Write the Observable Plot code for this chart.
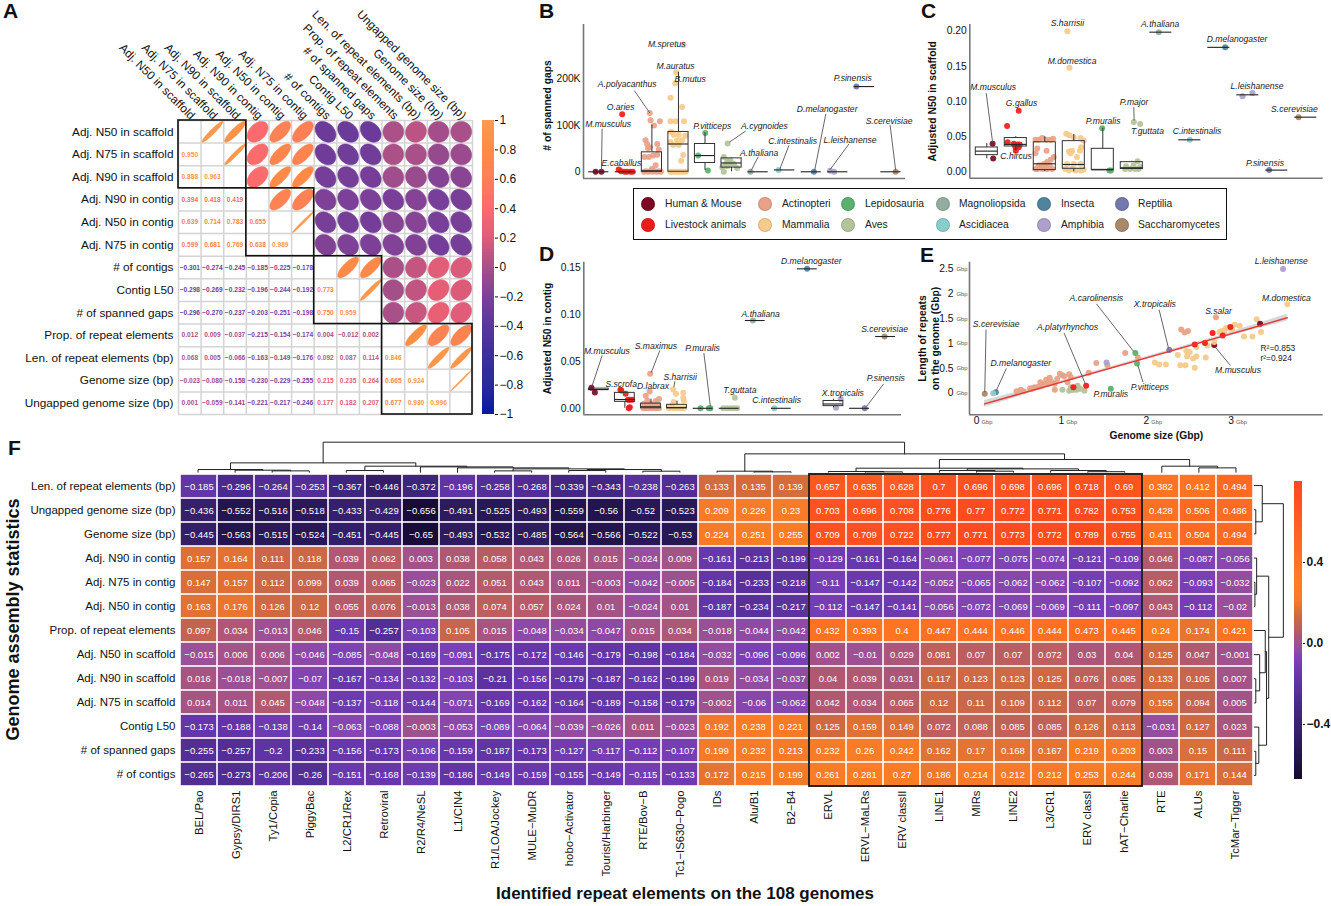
<!DOCTYPE html>
<html><head><meta charset="utf-8">
<script src="https://cdn.jsdelivr.net/npm/d3@7"></script>
<script src="https://cdn.jsdelivr.net/npm/@observablehq/plot@0.6"></script>
<style>
html,body{margin:0;padding:0;background:#fff}
#page{position:relative;width:1331px;height:906px;overflow:hidden;background:#fff;font-family:"Liberation Sans",Arial,sans-serif;color:#111}
.letter{position:absolute;font-weight:700;font-size:21px;line-height:21px}
#legend{position:absolute;left:633px;top:188px;width:592px;height:50px;border:1.3px solid #111;box-sizing:content-box}
.lg{position:absolute;font-size:10.3px;line-height:12px;white-space:nowrap;color:#222}
.ld{position:absolute;width:14px;height:14px;border-radius:50%;box-sizing:border-box;border:1px solid rgba(0,0,0,.12)}
</style></head><body><div id="page"></div>
<script>
/* ---------- shared categories ---------- */
const groups=["Human & Mouse","Livestock animals","Actinopteri","Mammalia","Lepidosauria","Aves","Magnoliopsida","Ascidiacea","Insecta","Amphibia","Reptilia","Saccharomycetes"];
const groupColors=["#7d0a24","#ee1c1c","#e8a287","#f6ca8a","#5cb06e","#b4c39a","#93ae9f","#88cccc","#50849e","#ae9fcb","#7478ad","#a88a6a"];

/* ---------- panel A ---------- */
const statLabels=["Adj. N50 in scaffold","Adj. N75 in scaffold","Adj. N90 in scaffold","Adj. N90 in contig","Adj. N50 in contig","Adj. N75 in contig","# of contigs","Contig L50","# of spanned gaps","Prop. of repeat elements","Len. of repeat elements (bp)","Genome size (bp)","Ungapped genome size (bp)"];
const corrLower=[[],[.950],[.888,.963],[.394,.418,.419],[.639,.714,.783,.655],[.599,.681,.769,.638,.989],
[-.301,-.274,-.245,-.185,-.225,-.178],[-.298,-.269,-.232,-.196,-.244,-.192,.773],[-.296,-.270,-.237,-.203,-.251,-.198,.750,.959],
[.012,.009,-.037,-.215,-.154,-.174,.004,-.012,.002],[.068,.005,-.066,-.163,-.149,-.176,.092,.087,.114,.846],
[-.023,-.080,-.158,-.230,-.229,-.255,.215,.235,.264,.665,.924],[.001,-.059,-.141,-.221,-.217,-.246,.177,.182,.207,.677,.930,.996]];
const corrBlocks=[[0,3],[3,6],[6,9],[9,13]];
const corrDomain=[-1,-.8,-.6,-.4,-.2,0,.2,.4,.6,.8,1];
const corrRange=["#0a18a0","#2a2a9c","#3c309c","#5a369c","#7c4098","#a85088","#e05c78","#fc6a6e","#fd7f58","#fd8c44","#fd9a50"];

/* ---------- panel B  [group, x jitter, value in thousands] ---------- */
const gapDots=[[0,-.12,0],[0,.1,0],
[1,-.12,124],[1,-.25,5],[1,-.16,1],[1,-.03,0],[1,.06,0],[1,.19,0],[1,.28,0],
[2,-.08,127],[2,-.05,111],[2,.3,109],[2,.08,100],[2,-.24,68],[2,-.18,60],[2,.2,60],[2,-.15,51],[2,-.08,53],[2,.26,48],[2,-.28,32],[2,-.11,32],[2,.05,35],[2,.2,37],[2,0,6],[2,.14,14],[2,-.3,0],[2,-.22,1],[2,-.14,0],[2,-.06,1],[2,.02,0],[2,.1,1],[2,.18,0],[2,.26,1],[2,.34,0],
[3,.19,274],[3,-.09,215],[3,-.12,191],[3,-.3,160],[3,.14,140],[3,-.3,109],[3,-.11,109],[3,.21,109],[3,-.28,86],[3,-.18,80],[3,.01,80],[3,.26,78],[3,-.3,64],[3,-.05,68],[3,.14,68],[3,-.2,58],[3,.01,58],[3,.18,36],[3,.1,24],[3,-.3,0],[3,-.22,0],[3,-.12,0],[3,-.02,0],[3,.08,0],[3,.18,0],[3,.28,0],
[4,.01,84],[4,-.26,35],[4,.11,3],
[5,-.15,61],[5,-.29,32],[5,-.16,24],[5,-.22,17],[5,-.04,17],[5,.09,17],[5,-.1,22],[5,-.16,12],[5,-.35,10],[5,.21,8],[5,-.29,0],[5,-.04,24],
[6,-.29,0],[7,-.23,4],[8,.1,0],[9,-.29,2],[9,-.14,0],[10,-.3,184],[11,.18,0]];
/* [low, q1, median, q3, high] per group */
const gapBoxes=[[0,0,0,0,0],[0,0,0,0,0],[0,0,2,42,101],[0,0,60,86,215],[3,19,35,60,84],[0,9,19,29,30],[0,0,0,0,0],[4,4,4,4,4],[0,0,0,0,0],[0,0,0,0,0],[184,184,184,184,184],[0,0,0,0,0]];
/* [name, x, y, from x, from y, to x, to y] */
const gapLabels=[["M.spretus",2.56,276],["M.auratus",2.89,228],["B.mutus",3.44,199],["A.polyacanthus",1.07,189,1.34,175,1.92,127],["O.aries",.82,139],["M.musculus",.35,102,.125,93,.1,2],["E.caballus",.85,19],["P.vitticeps",4.27,98],["A.cygnoides",6.24,98,5.53,88,4.92,64],["A.thaliana",6.04,41,6,32,5.74,3],["C.intestinalis",7.3,67,7.16,57,6.82,6],["D.melanogaster",8.6,134.5,8.55,125,8.13,3],["L.leishanense",9.46,69,9.42,60,8.7,4],["P.sinensis",9.56,202],["S.cerevisiae",10.93,110,10.97,101,11.18,3]];

/* ---------- panel C ---------- */
const scafDots=[[0,.2,.04],[0,.22,.019],
[1,.1,.087],[1,-.3,.065],[1,-.28,.042],[1,-.07,.04],[1,.05,.039],[1,.13,.039],[1,-.01,.035],[1,.1,.035],[1,0,.03],
[2,-.32,.0455],[2,-.21,.0455],[2,-.09,.048],[2,.06,.0455],[2,.2,.0455],[2,.29,.047],[2,-.26,.033],[2,-.32,.0265],[2,.06,.03],[2,.31,.021],[2,.2,.017],[2,.08,.014],[2,-.03,.011],[2,-.15,.009],[2,-.26,.004],[2,-.09,.004],[2,.08,.004],[2,.25,.004],[2,-.32,.004],[2,-.21,.009],[2,0,.007],[2,.17,.009],
[3,-.22,.2],[3,-.15,.148],[3,-.26,.054],[3,-.15,.052],[3,0,.049],[3,.23,.048],[3,.34,.0445],[3,-.17,.029],[3,-.06,.03],[3,-.11,.0265],[3,.25,.035],[3,.21,.03],[3,.11,.021],[3,-.23,.011],[3,0,.011],[3,.23,.011],[3,-.17,.002],[3,.06,.002],[3,.23,.002],[3,-.06,.004],[3,-.29,.004],[3,.34,.003],
[4,-.02,.062],[4,.23,.002],[4,.28,.002],
[5,.07,.071],[5,.29,.068],[5,-.2,.008],[5,-.23,.004],[5,-.06,.004],[5,.11,.004],[5,.23,.004],[5,.2,.015],[5,.06,.009],[5,.29,.007],
[6,-.07,.1986],[7,0,.0455],[8,.22,.177],[9,-.18,.1076],[9,.16,.112],[10,-.26,.0024],[11,-.25,.0777]];
const scafBoxes=[[.0185,.0237,.0294,.0346,.04],[.03,.036,.039,.048,.05],[0,.0024,.0114,.042,.05],[0,.0043,.0104,.0436,.053],[.002,.0028,.0028,.0327,.062],[.003,.004,.0057,.0137,.015],[.1986,.1986,.1986,.1986,.1986],[.0455,.0455,.0455,.0455,.0455],[.177,.177,.177,.177,.177],[.1095,.1095,.1095,.1095,.1095],[.0024,.0024,.0024,.0024,.0024],[.0777,.0777,.0777,.0777,.0777]];
const scafLabels=[["S.harrisii",2.78,.2114],["M.domestica",2.94,.157],["A.thaliana",5.98,.2104],["D.melanogaster",8.63,.1886],["L.leishanense",9.32,.1213],["S.cerevisiae",10.61,.0886],["M.musculus",.22,.1209,-.02,.1118,.2,.042],["G.gallus",1.2,.0972],["P.major",5.08,.0995,5.07,.092,5.08,.073],["P.muralis",4.01,.0725],["T.guttata",5.54,.0573],["C.intestinalis",7.25,.0573],["C.hircus",1.01,.0223],["P.sinensis",9.59,.0123]];

/* ---------- panel D ---------- */
const contigDots=[[0,-.28,.0219],[0,-.15,.0169],
[1,-.14,.019],[1,.03,.0155],[1,.12,.009],[1,.19,.009],[1,.28,.009],[1,.19,.001],[1,.15,0],[1,-.17,.0198],
[2,-.03,.0369],[2,-.05,.018],[2,-.2,.0134],[2,.31,.0098],[2,.18,.0077],[2,-.14,.0084],[2,-.27,.0048],[2,-.2,0],[2,-.08,0],[2,.05,0],[2,.18,0],[2,.31,0],[2,-.29,0],[2,-.14,.003],[2,.12,.003],[2,.24,.0048],[2,-.01,.0048],
[3,-.15,.02],[3,-.04,.0155],[3,.24,.0165],[3,.24,.0112],[3,-.13,.0066],[3,.26,.0084],[3,-.26,.0012],[3,-.13,0],[3,0,0],[3,.13,0],[3,.26,0],[3,-.32,0],[3,-.19,.003],
[4,-.1,0],[4,.22,0],[4,.28,0],
[5,.22,.0112],[5,-.23,0],[5,-.08,0],[5,.05,0],[5,.18,0],[5,.31,0],
[6,-.09,.0938],[7,-.27,0],[8,-.01,.149],[9,.28,.0098],[9,.1,.0005],[10,.2,0],[11,-.04,.0767]];
const contigBoxes=[[.0195,.0195,.02,.021,.021],[0,.0069,.0094,.0165,.0165],[0,0,.0016,.005,.0098],[0,0,.0007,.0037,.0077],[0,0,0,0,0],[0,0,0,0,0],[.0938,.0938,.0938,.0938,.0938],[0,0,0,0,0],[.149,.149,.149,.149,.149],[.0005,.0023,.0046,.0078,.0098],[0,0,0,0,0],[.0767,.0767,.0767,.0767,.0767]];
const contigLabels=[["D.melanogaster",8.15,.1576],["A.thaliana",6.21,.1003],["S.cerevisiae",10.96,.0846],["M.musculus",.31,.0615,.13,.0565,-.26,.0237],["S.maximus",2.19,.0661,2.34,.0618,2.01,.0379],["P.muralis",3.98,.0643,4.03,.059,4.28,.002],["S.scrofa",.86,.0258],["D.labrax",2.08,.0233],["S.harrisii",3.12,.0337,2.92,.029,2.88,.0226],["T.guttata",5.41,.0194],["C.intestinalis",6.82,.0084],["X.tropicalis",9.36,.0162],["P.sinensis",11.01,.0319,10.93,.0262,10.27,.002]];

/* ---------- panel E  [group, genome size, repeat length] ---------- */
const repeatDots=[
[2,.39,.04],[2,.44,.07],[2,.47,.04],[2,.55,.10],[2,.59,.11],[2,.65,.13],[2,.67,.22],[2,.71,.19],[2,.74,.27],[2,.78,.31],[2,.81,.22],[2,.84,.19],[2,.84,.07],[2,.87,.29],[2,.90,.39],[2,.93,.36],[2,.95,.34],[2,1.01,.38],[2,1.03,.32],[2,.99,.22],[2,1.24,.41],[2,1.33,.61],[2,1.46,.56],[2,1.67,.81],[2,1.82,.72],[2,2.33,1.28],[2,2.37,1.22],[2,2.41,1.25],[2,2.74,1.53],[2,.57,.09],[2,.61,.12],[2,.69,.15],[2,.77,.19],
[5,.93,.07],[5,1.01,.05],[5,1.05,.07],[5,1.07,.07],[5,1.11,.15],[5,1.14,.09],[5,1.19,.05],[5,1.10,.07],[5,1.03,.12],
[3,2.02,.62],[3,2.07,.58],[3,2.15,.58],[3,2.29,.77],[3,2.32,.56],[3,2.38,.56],[3,2.39,.85],[3,2.43,.83],[3,2.40,.74],[3,2.47,.70],[3,2.51,.74],[3,2.49,.51],[3,2.62,.72],[3,2.51,.93],[3,2.64,.96],[3,2.78,1.23],[3,2.83,1.24],[3,2.86,1.31],[3,2.89,1.32],[3,2.93,1.28],[3,2.96,1.38],[3,3.02,1.36],[3,3.07,1.14],[3,3.17,1.14],[3,3.22,1.49],[3,3.27,1.23],[3,3.58,1.79],[3,2.84,1.26],[3,2.81,1.25],
[1,1.21,.15],[1,1.06,.12],[1,2.49,.98],[1,2.61,1.01],[1,2.70,1.21],[1,2.82,1.16],[1,2.91,1.33],
[0,2.72,.97],[0,3.26,1.40],[3,2.72,1.03],
[4,1.79,.81],[4,1.81,.60],[4,1.50,.09],[9,1.45,.62],[9,3.53,2.50],[10,2.19,.87],[8,.145,.02],[7,.115,0],[11,.015,-.01]];
const repeatLabels=[["L.leishanense",3.51,2.65],["M.domestica",3.57,1.92],["S.salar",2.77,1.64],["A.carolinensis",1.33,1.92,1.33,1.80,1.77,.84],["X.tropicalis",2.02,1.79,2.07,1.68,2.18,.91],["S.cerevisiae",.15,1.38,.03,1.28,.015,.02],["A.platyrhynchos",.99,1.32,.95,1.21,1.20,.19],["D.melanogaster",.44,.61,.27,.50,.15,.05],["P.vitticeps",1.96,.12,1.88,.22,1.82,.56],["P.muralis",1.50,-.03],["M.musculus",3.0,.47,2.91,.56,2.73,.93]];
const fitLine=[[.012,-.215],[3.58,1.517]];
const fitBand=[[.012,-.285,-.145],[.9,.19,.24],[1.8,.63,.68],[2.7,1.065,1.115],[3.58,1.447,1.587]];
const fitStats=[["R²=0.853",3.47,.91],["r²=0.924",3.45,.71]];

/* ---------- panel F ---------- */
const repeatFamilies=["BEL/Pao","Gypsy/DIRS1","Ty1/Copia","PiggyBac","L2/CR1/Rex","Retroviral","R2/R4/NeSL","L1/CIN4","R1/LOA/Jockey","MULE−MuDR","hobo−Activator","Tourist/Harbinger","RTE/Bov−B","Tc1−IS630−Pogo","IDs","Alu/B1","B2−B4","ERVL","ERVL−MaLRs","ERV classII","LINE1","MIRs","LINE2","L3/CR1","ERV classI","hAT−Charlie","RTE","ALUs","TcMar−Tigger"];
const heatStats=["Len. of repeat elements (bp)","Ungapped genome size (bp)","Genome size (bp)","Adj. N90 in contig","Adj. N75 in contig","Adj. N50 in contig","Prop. of repeat elements","Adj. N50 in scaffold","Adj. N90 in scaffold","Adj. N75 in scaffold","Contig L50","# of spanned gaps","# of contigs"];
const rowLen=[-.185,-.296,-.264,-.253,-.367,-.446,-.372,-.196,-.258,-.268,-.339,-.343,-.238,-.263,.133,.135,.139,.657,.635,.628,.7,.696,.698,.696,.718,.69,.382,.412,.494];
const rowUngapped=[-.436,-.552,-.516,-.518,-.433,-.429,-.656,-.491,-.525,-.493,-.559,-.56,-.52,-.523,.209,.226,.23,.703,.696,.708,.776,.77,.772,.771,.782,.753,.428,.506,.486];
const rowGenome=[-.445,-.563,-.515,-.524,-.451,-.445,-.65,-.493,-.532,-.485,-.564,-.566,-.522,-.53,.224,.251,.255,.709,.709,.722,.777,.771,.773,.772,.789,.755,.411,.504,.494];
const rowN90c=[.157,.164,.111,.118,.039,.062,.003,.038,.058,.043,.026,.015,-.024,.009,-.161,-.213,-.199,-.129,-.161,-.164,-.061,-.077,-.075,-.074,-.121,-.109,.046,-.087,-.056];
const rowN75c=[.147,.157,.112,.099,.039,.065,-.023,.022,.051,.043,.011,-.003,-.042,-.005,-.184,-.233,-.218,-.11,-.147,-.142,-.052,-.065,-.062,-.062,-.107,-.092,.062,-.093,-.032];
const rowN50c=[.163,.176,.126,.12,.055,.076,-.013,.038,.074,.057,.024,.01,-.024,.01,-.187,-.234,-.217,-.112,-.147,-.141,-.056,-.072,-.069,-.069,-.111,-.097,.043,-.112,-.02];
const rowProp=[.097,.034,-.013,.046,-.15,-.257,-.103,.105,.015,-.048,-.034,-.047,.015,.034,-.018,-.044,-.042,.432,.393,.4,.447,.444,.446,.444,.473,.445,.24,.174,.421];
const rowN50s=[-.015,.006,.006,-.046,-.085,-.048,-.169,-.091,-.175,-.172,-.146,-.179,-.198,-.184,-.032,-.096,-.096,.002,-.01,.029,.081,.07,.07,.072,.03,.04,.125,.047,-.001];
const rowN90s=[.016,-.018,-.007,-.07,-.167,-.134,-.132,-.103,-.21,-.156,-.179,-.187,-.162,-.199,.019,-.034,-.037,.04,.039,.031,.117,.123,.123,.125,.076,.085,.133,.105,.007];
const rowN75s=[.014,.011,.045,-.048,-.137,-.118,-.144,-.071,-.169,-.162,-.164,-.189,-.158,-.179,-.002,-.06,-.062,.042,.034,.065,.12,.11,.109,.112,.07,.079,.155,.094,.005];
const rowL50=[-.173,-.188,-.138,-.14,-.063,-.088,-.003,-.053,-.089,-.064,-.039,-.026,.011,-.023,.192,.238,.221,.125,.159,.149,.072,.088,.085,.085,.126,.113,-.031,.127,.023];
const rowGaps=[-.255,-.257,-.2,-.233,-.156,-.173,-.106,-.159,-.187,-.173,-.127,-.117,-.112,-.107,.199,.232,.213,.232,.26,.242,.162,.17,.168,.167,.219,.203,.003,.15,.111];
const rowContigs=[-.265,-.273,-.206,-.26,-.151,-.168,-.139,-.186,-.149,-.159,-.155,-.149,-.115,-.133,.172,.215,.199,.261,.281,.27,.186,.214,.212,.212,.253,.244,.039,.171,.144];
const heatRows=[rowLen,rowUngapped,rowGenome,rowN90c,rowN75c,rowN50c,rowProp,rowN50s,rowN90s,rowN75s,rowL50,rowGaps,rowContigs];
const heatDomain=[-.67,-.5,-.3,-.15,-.08,-.02,.03,.08,.13,.2,.3,.45,.7,.8];
const heatRange=["#160a33","#2c1a5c","#4a2a8c","#6a38ae","#7d42b8","#9a4f98","#ac5678","#c0605a","#d06a3f","#f57a28","#ff7d24","#ff6f22","#ff5220","#ff4a1c"];
/* dendrograms [left leaf pos, right leaf pos, height, left child height, right child height] */
const topTree=[[3.375,19.06,90,28,55],[.875,5.875,28,8,18],[0,1.75,8,0,6],[1,2.5,6,0,4],[2,3,4,0,0],[4.5,7.25,18,5,16],[4,5,5,0,0],[6,8.5,16,0,13],[7,10,13,0,10],[8.5,11.5,10,4,8],[8,9,4,0,0],[10.5,12.5,8,5,3],[10,11,5,0,0],[12,13,3,0,0],
[14.75,23.375,55,3,38],[14,15.5,3,0,1],[15,16,1,0,0],[20,26.75,38,12,18],[26,27.5,18,0,13],[27,28,13,0,0],[17.75,22.25,12,2,10],[17,18.5,2,0,1],[18,19,1,0,0],[20.75,23.75,10,5,5],[20,21.5,5,0,3],[21,22,3,0,0],[23,24.5,5,0,1.5],[24,25,1.5,0,0]];
const sideTree=[[1,2,3,0,0],[0,1.5,18,0,3],[4,5,1,0,0],[3,4.5,5,0,1],[8,9,3,0,0],[7,8.5,12,0,3],[6,7.75,25,0,12],[11,12,3,0,0],[10,11.5,10,0,3],[6.875,10.75,28,25,10],[3.75,8.81,33,5,28],[.75,6.28,67,18,33]];

/* ---------- helpers ---------- */
const page=document.getElementById("page");
const FONT='"Liberation Sans",Arial,sans-serif';
const baseStyle={fontFamily:FONT,background:"transparent",overflow:"visible",color:"#111"};
function put(el,left,top){el.style.position="absolute";el.style.left=left+"px";el.style.top=top+"px";el.style.maxWidth="none";page.appendChild(el);}
const groupScale={domain:d3.range(12),range:groupColors,type:"ordinal"};
const treeLines=t=>t.flatMap((m,i)=>[[m[0],m[3]],[m[0],m[2]],[m[1],m[2]],[m[1],m[4]]].map(p=>({id:i,a:p[0],h:p[1]})));

function labelMarks(labels,size=8.6){
  const linked=labels.filter(l=>l.length>3);
  return [
    Plot.link(linked,{x1:d=>d[3],y1:d=>d[4],x2:d=>d[5],y2:d=>d[6],stroke:"#555",strokeWidth:.9}),
    Plot.text(labels,{x:d=>d[1],y:d=>d[2],text:d=>d[0],fontStyle:"italic",fontSize:size,fill:"#222"})
  ];
}
function boxPanel({dots,boxes,labels,xDomain,yDomain,ticks,fmt,title,titleDx,titleDy=0,left,top,width,height,ml,mr,mt,mb,fill}){
  const B=boxes.map((b,i)=>({c:i,lo:b[0],q1:b[1],med:b[2],q3:b[3],hi:b[4]}));
  const solid=B.filter(b=>b.q3>b.q1);
  put(Plot.plot({width,height,marginLeft:ml,marginRight:mr,marginTop:mt,marginBottom:mb,style:baseStyle,
    x:{domain:xDomain,axis:null},y:{domain:yDomain,axis:null},color:groupScale,
    marks:[
      Plot.dot(dots,{x:d=>d[0]+d[1],y:d=>d[2],r:3,fill:d=>d[0],fillOpacity:.92}),
      Plot.rect(solid,{x1:d=>d.c-.38,x2:d=>d.c+.38,y1:"q1",y2:"q3",fill:fill||"none",stroke:"#333",strokeWidth:1}),
      Plot.ruleX(solid,{x:"c",y1:"lo",y2:"q1",stroke:"#333",strokeWidth:1}),
      Plot.ruleX(solid,{x:"c",y1:"q3",y2:"hi",stroke:"#333",strokeWidth:1}),
      Plot.ruleY(B,{y:"med",x1:d=>d.c-.38,x2:d=>d.c+.38,stroke:"#222",strokeWidth:1.1}),
      ...labelMarks(labels),
      Plot.ruleX([xDomain[0]],{stroke:"#777",strokeWidth:1.6}),
      Plot.ruleY([yDomain[0]],{stroke:"#777",strokeWidth:1.6}),
      Plot.axisY({ticks,tickFormat:fmt,tickSize:0,tickPadding:3,fontSize:10.3,label:null,fill:"#111"}),
      Plot.text([title],{frameAnchor:"left",textAnchor:"middle",rotate:-90,dx:titleDx,dy:titleDy,fontSize:10.3,fontWeight:700,fill:"#111"})
    ]}),left,top);
}

/* ---------- letters ---------- */
[["A",3,0],["B",539,0],["C",921,0],["D",539,243],["E",920,244],["F",8,437]].forEach(([t,x,y])=>{
  const d=document.createElement("div");d.className="letter";d.textContent=t;d.style.left=x+"px";d.style.top=y+"px";page.appendChild(d);});

/* ---------- panel A ---------- */
{
  const n=statLabels.length, f=d3.format(".3f");
  const r=(i,j)=>i>j?corrLower[i][j]:corrLower[j][i];
  const lower=[],upper=[];
  for(let i=0;i<n;i++)for(let j=0;j<i;j++)lower.push({i,j,v:corrLower[i][j]});
  for(let i=0;i<n;i++)for(let j=i+1;j<n;j++)upper.push({i,j,v:r(i,j)});
  const R=.46;
  const ell=upper.flatMap((c,id)=>{const dd=Math.acos(c.v);
    return d3.range(0,72).map(k=>{const t=k/72*2*Math.PI;
      return {id,v:c.v,x:c.j+.5+R*Math.cos(t+dd/2),y:c.i+.5-R*Math.cos(t-dd/2)};});});
  const colour={type:"linear",domain:corrDomain,range:corrRange,interpolate:"rgb"};
  put(Plot.plot({width:478,height:425,marginLeft:178,marginRight:6,marginTop:120,marginBottom:11,style:baseStyle,
    x:{domain:[0,n],axis:null},y:{domain:[0,n],reverse:true,axis:null},color:colour,
    marks:[
      Plot.ruleX(d3.range(n+1),{stroke:"#d4d4d4",strokeWidth:1.5}),
      Plot.ruleY(d3.range(n+1),{stroke:"#d4d4d4",strokeWidth:1.5}),
      Plot.line(ell,{x:"x",y:"y",z:"id",fill:"v",stroke:"v",strokeWidth:.6,curve:"linear-closed"}),
      Plot.text(lower,{x:d=>d.j+.5,y:d=>d.i+.5,text:d=>f(d.v),fill:"v",fontSize:6.6,fontWeight:700}),
      Plot.rect(corrBlocks,{x1:d=>d[0],x2:d=>d[1],y1:d=>d[0],y2:d=>d[1],fill:"none",stroke:"#111",strokeWidth:1.6}),
      Plot.text(statLabels,{x:()=>0,y:(d,i)=>i+.5,text:d=>d,textAnchor:"end",dx:-5,fontSize:11.8,fill:"#111"}),
      Plot.text(statLabels,{x:(d,i)=>i+.5,y:()=>0,text:d=>d,textAnchor:"end",rotate:45,dx:3,dy:-3,fontSize:11.8,fill:"#111"})
    ]}),0,0);
  const bins=d3.range(-1,1,.01);
  put(Plot.plot({width:58,height:315,marginLeft:4,marginRight:42,marginTop:10,marginBottom:11,style:baseStyle,
    x:{domain:[0,1],axis:null},y:{domain:[-1,1],axis:null},color:colour,
    marks:[
      Plot.rect(bins,{x1:()=>0,x2:()=>1,y1:d=>d,y2:d=>d+.01,fill:d=>d,shapeRendering:"crispEdges"}),
      Plot.axisY({anchor:"right",ticks:corrDomain,tickFormat:d3.format("~g"),tickSize:3,tickPadding:2,fontSize:12,label:null,fill:"#111"})
    ]}),478,110);
}

/* ---------- panels B, C, D ---------- */
boxPanel({dots:gapDots,boxes:gapBoxes,labels:gapLabels,xDomain:[-.576,11.55],yDomain:[-14.5,318],ticks:[0,100,200],fmt:d=>d?d+"K":"0",
  title:"# of spanned gaps",titleDx:-36,titleDy:4,left:530,top:10,width:385,height:175,ml:53,mr:10,mt:14,mb:7});
boxPanel({dots:scafDots,boxes:scafBoxes,labels:scafLabels,xDomain:[-.586,11.6],yDomain:[-.0091,.2095],ticks:[0,.05,.1,.15,.2],fmt:d3.format(".2f"),
  title:"Adjusted N50 in scaffold",titleDx:-37,left:922,top:10,width:405,height:175,ml:47.3,mr:4.3,mt:14,mb:7.3});
boxPanel({dots:contigDots,boxes:contigBoxes,labels:contigLabels,xDomain:[-.575,11.61],yDomain:[-.00695,.1561],ticks:[0,.05,.1,.15],fmt:d3.format(".2f"),
  title:"Adjusted N50 in contig",titleDx:-36,left:530,top:245,width:385,height:175,ml:53.3,mr:14,mt:16.7,mb:5.7});

/* ---------- legend ---------- */
{
  const box=document.createElement("div");box.id="legend";page.appendChild(box);
  const xDot=[648,765,848,943,1044,1122], xTxt=[665,782,865,959,1061,1138], yRow=[204,224.5];
  groups.forEach((g,i)=>{const c=Math.floor(i/2),r=i%2;
    const d=document.createElement("div");d.className="ld";d.style.left=(xDot[c]-7)+"px";d.style.top=(yRow[r]-7)+"px";d.style.background=groupColors[i];page.appendChild(d);
    const t=document.createElement("div");t.className="lg";t.textContent=g;t.style.left=xTxt[c]+"px";t.style.top=(yRow[r]-6)+"px";page.appendChild(t);});
}

/* ---------- panel E ---------- */
{
  const xT=[0,1,2,3], yT=[0,.5,1,1.5,2,2.5];
  put(Plot.plot({width:412,height:195,marginLeft:54,marginRight:4.3,marginTop:16.7,marginBottom:25.7,style:baseStyle,
    x:{domain:[-.165,4.004],axis:null},y:{domain:[-.435,2.637],axis:null},color:groupScale,
    marks:[
      Plot.areaY(fitBand,{x:d=>d[0],y1:d=>d[1],y2:d=>d[2],fill:"#c4cccc",fillOpacity:.75}),
      Plot.dot(repeatDots,{x:d=>d[1],y:d=>d[2],r:3,fill:d=>d[0],fillOpacity:.95}),
      Plot.line(fitLine,{x:d=>d[0],y:d=>d[1],stroke:"#ee3535",strokeWidth:1.5}),
      ...labelMarks(repeatLabels),
      Plot.text(fitStats,{x:d=>d[1],y:d=>d[2],text:d=>d[0],fontSize:8.4,fill:"#222"}),
      Plot.ruleX([-.165],{stroke:"#777",strokeWidth:1.6}),
      Plot.ruleY([-.435],{stroke:"#777",strokeWidth:1.6}),
      Plot.text(yT,{y:d=>d,text:d=>String(d),frameAnchor:"left",textAnchor:"end",dx:-16,fontSize:10.3,fill:"#111"}),
      Plot.text(yT,{y:d=>d,text:()=>"Gbp",frameAnchor:"left",textAnchor:"end",dx:-2,fontSize:5.8,fill:"#555"}),
      Plot.text(xT,{x:d=>d,text:d=>String(d),frameAnchor:"bottom",textAnchor:"end",dy:9,dx:-4,fontSize:10.3,fill:"#111"}),
      Plot.text(xT,{x:d=>d,text:()=>"Gbp",frameAnchor:"bottom",textAnchor:"start",dy:9,dx:-2,fontSize:5.8,fill:"#555"}),
      Plot.text(["Genome size (Gbp)"],{frameAnchor:"bottom",dy:24,dx:10,fontSize:10.3,fontWeight:700,fill:"#111"}),
      Plot.text(["Length of repeats\non the genome (Gbp)"],{frameAnchor:"left",textAnchor:"middle",rotate:-90,dx:-41,fontSize:10.3,fontWeight:700,lineHeight:1.25,fill:"#111"})
    ]}),915,245);
}

/* ---------- panel F ---------- */
{
  const cells=heatRows.flatMap((row,i)=>row.map((v,j)=>({row:heatStats[i],col:repeatFamilies[j],v})));
  const colour={type:"linear",domain:heatDomain,range:heatRange,interpolate:"rgb"};
  const j0=repeatFamilies.indexOf("ERVL"), j1=repeatFamilies.indexOf("hAT−Charlie");
  put(Plot.plot({width:1256,height:433,marginLeft:179,marginRight:2,marginTop:0,marginBottom:119,style:baseStyle,
    x:{type:"band",domain:repeatFamilies,padding:0,axis:null},y:{type:"band",domain:heatStats,padding:0,axis:null},color:colour,
    marks:[
      Plot.cell(cells,{x:"col",y:"row",fill:"v",inset:.8}),
      Plot.text(cells,{x:"col",y:"row",text:d=>String(d.v).replace("-","−"),fill:"#fff",fontSize:9.5}),
      Plot.rect([0],{x1:()=>repeatFamilies[j0],x2:()=>repeatFamilies[j1],y1:()=>heatStats[0],y2:()=>heatStats[12],fill:"none",stroke:"#111",strokeWidth:1.8,
        render(idx,sc){
          const x=sc.x,y=sc.y;
          return d3.create("svg:rect").attr("x",x(repeatFamilies[j0])).attr("width",x(repeatFamilies[j1])+x.bandwidth()-x(repeatFamilies[j0]))
            .attr("y",y(heatStats[0])).attr("height",y(heatStats[12])+y.bandwidth()-y(heatStats[0])).attr("fill","none").attr("stroke","#111").attr("stroke-width",1.8).node();
        }}),
      Plot.axisY({anchor:"left",tickSize:0,tickPadding:4,fontSize:11.5,label:null,fill:"#111"}),
      Plot.axisX({anchor:"bottom",tickRotate:-90,tickSize:0,tickPadding:3,fontSize:11.3,label:null,fill:"#111"}),
      Plot.text(["Identified repeat elements on the 108 genomes"],{frameAnchor:"bottom",dy:111,dx:-32,fontSize:17,fontWeight:700,fill:"#111"}),
      Plot.text(["Genome assembly statistics"],{frameAnchor:"left",textAnchor:"middle",rotate:-90,dx:-166,dy:-11,fontSize:18,fontWeight:700,fill:"#111"})
    ]}),0,473);

  put(Plot.plot({width:1075,height:35,marginLeft:0,marginRight:0,marginTop:3.7,marginBottom:1.3,style:baseStyle,
    x:{domain:[-.5,28.5],axis:null},y:{domain:[0,90],axis:null},
    marks:[Plot.line(treeLines(topTree),{x:"a",y:"h",z:"id",stroke:"#222",strokeWidth:1})]}),179,438);

  put(Plot.plot({width:34,height:314,marginLeft:0,marginRight:3,marginTop:0,marginBottom:0,style:baseStyle,
    x:{domain:[0,72],axis:null},y:{domain:[-.5,12.5],reverse:true,axis:null},
    marks:[Plot.line(treeLines(sideTree),{x:"h",y:"a",z:"id",stroke:"#222",strokeWidth:1})]}),1254,473);

  const bins=d3.range(-.672,.8,.008);
  put(Plot.plot({width:41,height:310,marginLeft:4,marginRight:29,marginTop:6,marginBottom:6,style:baseStyle,
    x:{domain:[0,1],axis:null},y:{domain:[-.672,.8],axis:null},color:colour,
    marks:[
      Plot.rect(bins,{x1:()=>0,x2:()=>1,y1:d=>d,y2:d=>d+.008,fill:d=>d,shapeRendering:"crispEdges"}),
      Plot.axisY({anchor:"right",ticks:[-.4,0,.4],tickFormat:d3.format(".1f"),tickSize:2,tickPadding:2,fontSize:12,fontWeight:700,label:null,fill:"#111"})
    ]}),1290,475);
}
</script></body></html>
